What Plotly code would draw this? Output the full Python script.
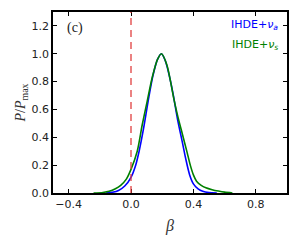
import plotly.graph_objects as go

# IHDE + nu_a (blue)
beta_a = [-0.16, -0.12, -0.08, -0.04, 0.0, 0.03, 0.052, 0.08, 0.11, 0.14, 0.17, 0.195,
          0.22, 0.25, 0.27, 0.30, 0.33, 0.35, 0.376, 0.40, 0.43, 0.46, 0.50, 0.55]
p_a = [0.0, 0.005, 0.018, 0.05, 0.113, 0.2, 0.30, 0.46, 0.66, 0.84, 0.96, 1.0,
       0.95, 0.82, 0.71, 0.52, 0.36, 0.25, 0.13, 0.066, 0.03, 0.012, 0.003, 0.0]

# IHDE + nu_s (green)
beta_s = [-0.24, -0.18, -0.14, -0.10, -0.066, -0.03, 0.0, 0.04, 0.072, 0.104, 0.136, 0.17,
          0.195, 0.23, 0.274, 0.30, 0.33, 0.36, 0.38, 0.40, 0.42, 0.45, 0.48, 0.52, 0.56,
          0.60, 0.65]
p_s = [0.0, 0.004, 0.012, 0.03, 0.055, 0.1, 0.17, 0.30, 0.49, 0.66, 0.83, 0.96,
       1.0, 0.92, 0.68, 0.55, 0.42, 0.29, 0.20, 0.13, 0.085, 0.055, 0.038, 0.024, 0.014,
       0.006, 0.0]

x_ticks = [-0.4, 0.0, 0.4, 0.8]
y_ticks = [0.0, 0.2, 0.4, 0.6, 0.8, 1.0, 1.2]

fig = go.Figure()
fig.add_trace(go.Scatter(x=beta_a, y=p_a, mode="lines",
                         line=dict(color="#0000ff", width=1.6, shape="spline", smoothing=0.8),
                         showlegend=False))
fig.add_trace(go.Scatter(x=beta_s, y=p_s, mode="lines",
                         line=dict(color="#008000", width=1.6, shape="spline", smoothing=0.8),
                         showlegend=False))

fig.add_shape(type="line", x0=0, x1=0, y0=0, y1=1, xref="x", yref="paper",
              line=dict(color="rgba(225,60,60,0.85)", width=1.5, dash="7px,5px"))

axis_common = dict(showline=True, linecolor="black", linewidth=1.5, mirror="ticks",
                   ticks="inside", ticklen=4, tickwidth=1, tickcolor="black",
                   showgrid=False, zeroline=False,
                   tickfont=dict(family="DejaVu Sans", size=11, color="#222"))

fig.update_xaxes(range=[-0.5, 1.0], tickvals=x_ticks, tickformat=".1f",
                 title=dict(text="<i>β</i>", font=dict(family="Liberation Serif", size=16, color="#333"),
                            standoff=10),
                 **axis_common)
fig.update_yaxes(range=[0, 1.3], tickvals=y_ticks, tickformat=".1f",
                 title=dict(text="<i>P</i>/<i>P</i><sub>max</sub>",
                            font=dict(family="Liberation Serif", size=14, color="#333"),
                            standoff=3),
                 **axis_common)

fig.add_annotation(x=0.096, y=0.911, xref="paper", yref="paper", text="(c)", showarrow=False,
                   xanchor="center", yanchor="middle",
                   font=dict(family="Liberation Serif", size=14, color="#222"))
fig.add_annotation(x=0.969, y=0.93, xref="paper", yref="paper",
                   text="IHDE+<i>ν</i><sub><i>a</i></sub>", showarrow=False,
                   xanchor="right", yanchor="middle",
                   font=dict(family="DejaVu Sans", size=11, color="#0000ff"))
fig.add_annotation(x=0.969, y=0.82, xref="paper", yref="paper",
                   text="IHDE+<i>ν</i><sub><i>s</i></sub>", showarrow=False,
                   xanchor="right", yanchor="middle",
                   font=dict(family="DejaVu Sans", size=11, color="#008000"))

fig.update_layout(width=299, height=245, margin=dict(l=53, r=10, t=10, b=52),
                  plot_bgcolor="white", paper_bgcolor="white")

fig.write_html("out.html", config={"displayModeBar": False},
               post_script="document.body.style.margin='0';document.body.style.padding='0';")
